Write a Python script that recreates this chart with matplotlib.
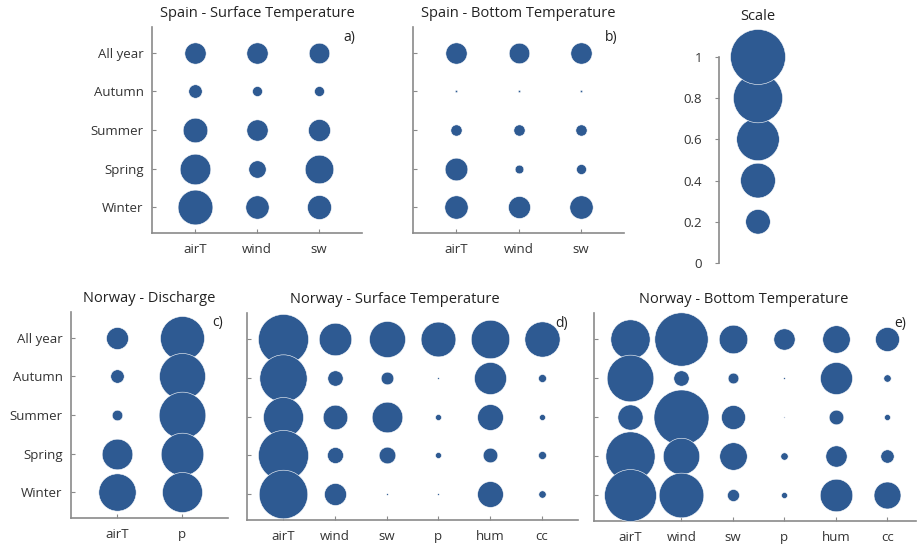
import numpy as np
import matplotlib
matplotlib.use("Agg")
import matplotlib.pyplot as plt

plt.rcParams['font.family'] = ['Open Sans', 'DejaVu Sans']

seasons = ['All year', 'Autumn', 'Summer', 'Spring', 'Winter']
vars_spain = ['airT', 'wind', 'sw']
vars_discharge = ['airT', 'p']
vars_norway = ['airT', 'wind', 'sw', 'p', 'hum', 'cc']

# rows follow seasons (All year ... Winter), columns follow variables
spain_surface = [[0.15, 0.15, 0.14],
                 [0.06, 0.033, 0.033],
                 [0.20, 0.15, 0.16],
                 [0.31, 0.10, 0.27],
                 [0.40, 0.18, 0.19]]
spain_bottom = [[0.15, 0.14, 0.15],
                [0.002, 0.002, 0.002],
                [0.042, 0.042, 0.042],
                [0.17, 0.025, 0.033],
                [0.18, 0.16, 0.18]]
norway_discharge = [[0.16, 0.64],
                    [0.06, 0.70],
                    [0.037, 0.72],
                    [0.31, 0.60],
                    [0.46, 0.53]]
norway_surface = [[0.83, 0.35, 0.43, 0.40, 0.49, 0.41],
                  [0.74, 0.078, 0.053, 0.001, 0.34, 0.021],
                  [0.53, 0.20, 0.31, 0.012, 0.22, 0.012],
                  [0.83, 0.085, 0.092, 0.012, 0.071, 0.021],
                  [0.78, 0.16, 0.001, 0.001, 0.22, 0.018]]
norway_bottom = [[0.51, 0.94, 0.27, 0.15, 0.25, 0.19],
                 [0.72, 0.078, 0.038, 0.001, 0.34, 0.018],
                 [0.21, 1.00, 0.19, 0.0005, 0.071, 0.012],
                 [0.80, 0.44, 0.25, 0.018, 0.15, 0.059],
                 [0.89, 0.66, 0.048, 0.012, 0.35, 0.24]]
scale_values = [0.2, 0.4, 0.6, 0.8, 1.0]
scale_ticks = [0, 0.2, 0.4, 0.6, 0.8, 1]

BLUE = '#2e5a92'
AXC = '#8a8a8a'
TXT = '#333333'
S1 = 1570  # marker area (pt^2) for a value of 1

W, H = 917, 546
fig = plt.figure(figsize=(W / 100, H / 100), dpi=100)


def rect(x0, x1, y0, y1):
    # pixel box -> figure fraction
    return [x0 / W, 1 - y1 / H, (x1 - x0) / W, (y1 - y0) / H]


def bubble_panel(box, data, xlabels, title, tag, show_y, xmax=None, title_x=0.5):
    ax = fig.add_axes(box)
    data = np.array(data)
    ny, nx = data.shape
    for i in range(ny):
        for j in range(nx):
            ax.scatter(j + 1, ny - i, s=data[i, j] * S1, color=BLUE,
                       edgecolors='white', linewidths=0.4, clip_on=False, zorder=3)
    ax.set_xlim(0.3, xmax if xmax else nx + 0.7)
    ax.set_ylim(0.33, ny + 0.67)
    ax.set_xticks(np.arange(1, nx + 1))
    ax.set_xticklabels(xlabels)
    ax.set_yticks(np.arange(1, ny + 1))
    ax.set_yticklabels(seasons[::-1] if show_y else [])
    for s in ['top', 'right']:
        ax.spines[s].set_visible(False)
    for s in ['left', 'bottom']:
        ax.spines[s].set_color(AXC)
        ax.spines[s].set_linewidth(1.2)
    ax.tick_params(direction='in', length=3, color=AXC, labelsize=9.5,
                   labelcolor=TXT, pad=6)
    ax.tick_params(axis='x', pad=7)
    ax.set_title(title, fontsize=10.5, color='#222222', pad=7, x=title_x)
    ax.text(0.97, 0.95, tag, transform=ax.transAxes, ha='right', va='center',
            fontsize=10, color='#222222')
    return ax


bubble_panel(rect(152, 362, 27, 233), spain_surface, vars_spain,
             'Spain - Surface Temperature', 'a)', True)
bubble_panel(rect(413, 624, 27, 233), spain_bottom, vars_spain,
             'Spain - Bottom Temperature', 'b)', False)
bubble_panel(rect(71, 228, 312, 518), norway_discharge, vars_discharge,
             'Norway - Discharge', 'c)', True)
bubble_panel(rect(247, 578, 313, 520), norway_surface, vars_norway,
             'Norway - Surface Temperature', 'd)', False, title_x=0.447)
bubble_panel(rect(594, 916, 313, 521), norway_bottom, vars_norway,
             'Norway - Bottom Temperature', 'e)', False, xmax=6.56, title_x=0.466)

# scale panel
axs = fig.add_axes(rect(719, 797, 57, 263))
axs.scatter(np.ones(len(scale_values)), scale_values,
            s=np.array(scale_values) * S1, color=BLUE, edgecolors='white',
            linewidths=0.4, clip_on=False, zorder=3)
axs.set_xlim(0.5, 1.5)
axs.set_ylim(0, 1)
axs.set_yticks(scale_ticks)
axs.set_yticklabels(['0', '0.2', '0.4', '0.6', '0.8', '1'])
axs.set_xticks([])
for s in ['top', 'right', 'bottom']:
    axs.spines[s].set_visible(False)
axs.spines['left'].set_color(AXC)
axs.spines['left'].set_linewidth(1.2)
axs.tick_params(axis='y', direction='out', length=3, color=AXC, labelsize=9.5,
                labelcolor=TXT, pad=9)
axs.text(0.5, 1 + 33 / 206, 'Scale', transform=axs.transAxes, ha='center',
         va='bottom', fontsize=10.5, color='#222222')

fig.savefig('out.png', dpi=100)
